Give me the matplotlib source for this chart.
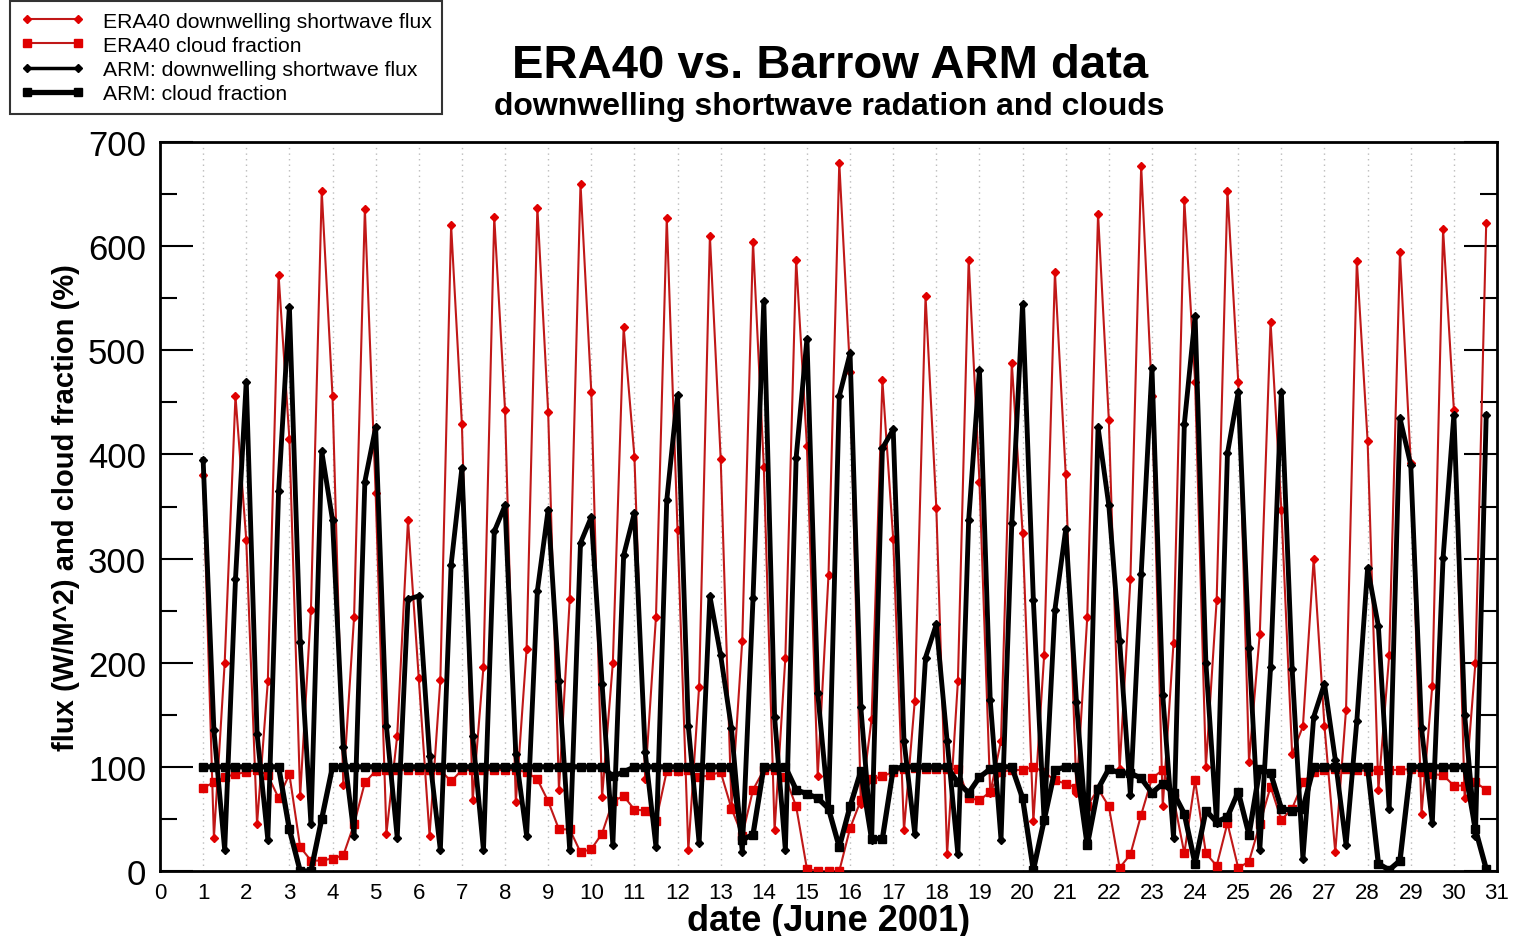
import numpy as np
import matplotlib
matplotlib.use("Agg")
import matplotlib.pyplot as plt
from matplotlib.lines import Line2D
from matplotlib.ticker import MultipleLocator

plt.rcParams['font.family'] = ['Liberation Sans', 'DejaVu Sans']

# Six-hourly samples (00, 06, 12, 18 UTC) for 1-30 June 2001
days = list(range(1, 31))
hours = [0, 6, 12, 18]

era_flux = [
    380, 32, 200, 456,   318, 45, 182, 572,   415, 72, 251, 653,
    456, 83, 244, 636,   363, 36, 130, 337,   185, 34, 183, 620,
    429, 68, 196, 628,   443, 66, 213, 637,   441, 78, 261, 660,
    460, 71, 200, 522,   398, 88, 244, 627,   327, 20, 177, 610,
    396, 62, 221, 604,   388, 39, 205, 587,   408, 91, 284, 680,
    479, 64, 146, 471,   319, 39, 163, 552,   349, 16, 182, 587,
    374, 75, 125, 488,   325, 48, 207, 575,   381, 75, 244, 631,
    433, 98, 280, 677,   456, 62, 219, 644,   470, 100, 260, 653,
    470, 105, 228, 527,  347, 112, 139, 300,  139, 18, 155, 586,
    413, 78, 207, 594,   392, 55, 178, 616,   443, 70, 200, 622,
]

era_cloud = [
    80, 85, 90, 93,    95, 97, 92, 70,    93, 23, 10, 10,
    12, 15, 45, 85,    96, 97, 97, 97,    97, 97, 97, 86,
    97, 97, 97, 97,    97, 97, 95, 88,    67, 40, 40, 18,
    21, 36, 67, 72,    59, 58, 48, 96,    96, 97, 90, 92,
    95, 60, 34, 78,    97, 97, 90, 62,    2, 0, 0, 0,
    41, 68, 88, 91,    95, 98, 99, 98,    98, 98, 98, 70,
    68, 76, 95, 97,    97, 100, 95, 87,   84, 80, 62, 79,
    62, 3, 16, 54,     89, 97, 70, 17,    87, 17, 5, 46,
    3, 9, 45, 81,      49, 60, 85, 95,    97, 98, 98, 97,
    96, 97, 97, 97,    98, 95, 93, 92,    82, 82, 85, 78,
]

arm_flux = [
    395, 135, 20, 280,   470, 132, 30, 365,   542, 220, 45, 403,
    337, 119, 34, 374,   426, 139, 32, 261,   264, 110, 20, 294,
    387, 130, 20, 326,   351, 112, 34, 269,   347, 182, 20, 315,
    340, 180, 25, 303,   344, 114, 23, 356,   457, 139, 27, 264,
    207, 137, 18, 262,   547, 148, 20, 397,   511, 171, 60, 456,
    497, 157, 30, 406,   424, 125, 36, 205,   237, 125, 16, 337,
    481, 164, 30, 334,   544, 260, 48, 251,   328, 162, 30, 426,
    351, 221, 73, 285,   483, 169, 32, 429,   533, 200, 46, 401,
    460, 214, 20, 196,   460, 194, 12, 148,   180, 107, 25, 144,
    291, 235, 60, 435,   390, 137, 46, 301,   438, 150, 34, 438,
]

arm_cloud = [
    100, 100, 100, 100,  100, 100, 100, 100,  40, 0, 0, 50,
    100, 100, 100, 100,  100, 100, 100, 100,  100, 100, 100, 100,
    100, 100, 100, 100,  100, 100, 100, 100,  100, 100, 100, 100,
    100, 100, 91, 95,    100, 100, 100, 100,  100, 100, 100, 100,
    100, 100, 30, 35,    100, 100, 100, 78,   74, 70, 60, 23,
    62, 96, 31, 31,      98, 100, 100, 100,   100, 100, 85, 75,
    90, 98, 100, 100,    70, 1, 49, 97,       100, 100, 25, 79,
    98, 94, 94, 89,      75, 84, 75, 55,      7, 58, 47, 52,
    76, 35, 98, 94,      60, 58, 60, 100,     100, 100, 100, 100,
    100, 7, 1, 10,       100, 100, 100, 100,  100, 100, 40, 2,
]

time = np.array([d + h / 24.0 for d in days for h in hours])

RED_LINE = '#c01818'
RED_MARK = '#e00000'

fig = plt.figure(figsize=(15.14, 9.37), dpi=100)
ax = fig.add_axes([160 / 1514, 1 - 872 / 937, (1497 - 160) / 1514, (872 - 143) / 937])

ax.plot(time, era_flux, color=RED_LINE, lw=1.5, marker='D', ms=4.5,
        mfc=RED_MARK, mec=RED_MARK, zorder=3)
ax.plot(time, era_cloud, color=RED_LINE, lw=1.5, marker='s', ms=5.5,
        mfc=RED_MARK, mec=RED_MARK, zorder=3)
ax.plot(time, arm_flux, color='black', lw=3.5, marker='D', ms=4.5,
        mfc='black', mec='black', zorder=4)
ax.plot(time, arm_cloud, color='black', lw=3.8, marker='s', ms=5.5,
        mfc='black', mec='black', zorder=4)

ax.set_xlim(0, 31)
ax.set_ylim(0, 700)
ax.xaxis.set_major_locator(MultipleLocator(1))
ax.yaxis.set_major_locator(MultipleLocator(100))
ax.yaxis.set_minor_locator(MultipleLocator(50))
ax.tick_params(axis='y', which='major', direction='in', length=24, width=1.5,
               left=True, right=True, labelsize=25, pad=10)
ax.tick_params(axis='y', which='minor', direction='in', length=12, width=1.5,
               left=True, right=True)
ax.tick_params(axis='x', which='major', direction='in', length=0,
               labelsize=16, pad=8)
ax.grid(axis='x', which='major', color='#bbbbbb', linestyle=(0, (1, 3)), lw=1.0)
for s in ax.spines.values():
    s.set_linewidth(2.0)

ax.set_xlabel('date (June 2001)', fontsize=26, fontweight='bold', labelpad=0)
ax.set_ylabel('flux (W/M^2) and cloud fraction (%)', fontsize=21,
              fontweight='bold', labelpad=6)

fig.text(0.548, 1 - 66 / 937, 'ERA40 vs. Barrow ARM data', ha='center',
         va='center', fontsize=34, fontweight='bold')
fig.text(0.548, 1 - 107 / 937, 'downwelling shortwave radation and clouds',
         ha='center', va='center', fontsize=23, fontweight='bold')

handles = [
    Line2D([], [], color=RED_LINE, lw=1.5, marker='D', ms=4.5, mfc=RED_MARK, mec=RED_MARK),
    Line2D([], [], color=RED_LINE, lw=1.5, marker='s', ms=6, mfc=RED_MARK, mec=RED_MARK),
    Line2D([], [], color='black', lw=2.5, marker='D', ms=4.5),
    Line2D([], [], color='black', lw=3.8, marker='s', ms=6),
]
labels = ['ERA40 downwelling shortwave flux', 'ERA40 cloud fraction',
          'ARM: downwelling shortwave flux', 'ARM: cloud fraction']
leg = fig.legend(handles, labels, loc='upper left',
                 bbox_to_anchor=(10 / 1514, 1 - 2 / 937), numpoints=2,
                 handlelength=3.0, handletextpad=0.9, labelspacing=0.25,
                 borderpad=0.5, fontsize=15.2, frameon=True, fancybox=False,
                 edgecolor='black', borderaxespad=0)
leg.get_frame().set_linewidth(1.5)

fig.savefig('out.png', dpi=100)
